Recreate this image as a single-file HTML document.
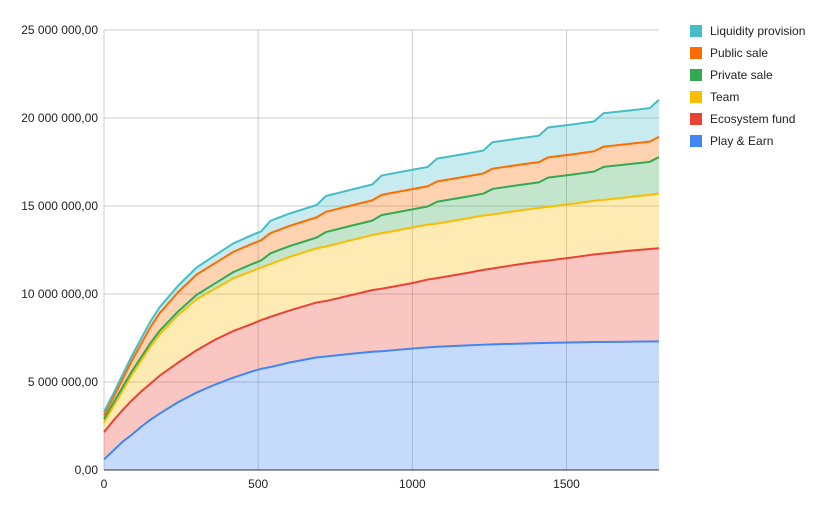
<!DOCTYPE html>
<html><head><meta charset="utf-8"><style>
body{margin:0;background:#fff;}
svg{font-family:"Liberation Sans",Arial,sans-serif;}
</style></head><body>
<svg id="chart" width="829" height="513"></svg>
<script>
const days=[0,30,60,90,120,150,180,240,300,360,420,480,510,540,600,690,720,800,870,900,1000,1050,1080,1180,1230,1260,1350,1410,1440,1530,1590,1620,1700,1770,1800];
const playEarn=[0.6,1.1,1.6,2.0,2.45,2.85,3.2,3.85,4.4,4.85,5.25,5.6,5.75,5.85,6.1,6.4,6.45,6.6,6.72,6.75,6.9,6.97,7.0,7.08,7.12,7.14,7.18,7.21,7.22,7.25,7.27,7.27,7.29,7.3,7.31];
const ecosystem=[1.55,1.7,1.8,1.95,2.0,2.05,2.15,2.25,2.4,2.55,2.65,2.7,2.77,2.85,2.95,3.12,3.15,3.33,3.5,3.55,3.72,3.85,3.9,4.12,4.25,4.31,4.52,4.63,4.68,4.85,4.98,5.03,5.16,5.26,5.29];
const team=[0.55,0.8,1.1,1.45,1.75,2.1,2.35,2.7,2.9,2.9,3.0,3.0,2.99,3.0,3.05,3.08,3.1,3.12,3.13,3.15,3.16,3.12,3.1,3.1,3.09,3.07,3.05,3.05,3.05,3.05,3.05,3.05,3.05,3.08,3.1];
const privateSale=[0.2,0.2,0.2,0.2,0.2,0.2,0.2,0.2,0.25,0.3,0.35,0.4,0.4,0.61,0.61,0.61,0.82,0.82,0.82,1.03,1.03,1.03,1.24,1.24,1.24,1.45,1.45,1.45,1.66,1.66,1.66,1.87,1.87,1.87,2.08];
const publicSale=[0.2,0.3,0.45,0.6,0.75,0.9,1.0,1.1,1.15,1.15,1.15,1.15,1.15,1.15,1.15,1.15,1.15,1.15,1.15,1.15,1.15,1.15,1.15,1.15,1.15,1.15,1.15,1.15,1.15,1.15,1.15,1.15,1.15,1.15,1.15];
const liquidity=[0.2,0.22,0.25,0.27,0.3,0.32,0.34,0.37,0.4,0.45,0.48,0.5,0.5,0.7,0.7,0.7,0.9,0.9,0.9,1.1,1.1,1.1,1.3,1.3,1.3,1.5,1.5,1.5,1.7,1.7,1.7,1.9,1.9,1.9,2.1];
const seriesNames=["Play & Earn","Ecosystem fund","Team","Private sale","Public sale","Liquidity provision"];
const xTicks=[0,500,1000,1500];
const yTicks=[0,5,10,15,20,25];
const yTickLabels=["0,00","5 000 000,00","10 000 000,00","15 000 000,00","20 000 000,00","25 000 000,00"];

const colors=["#4285f4","#ea4335","#fbbc04","#34a853","#ff6d01","#46bdc6"];
const NS="http://www.w3.org/2000/svg";
const svg=document.getElementById("chart");
const X0=104,X1=659,Y0=470,Y1=30;
const xs=d=>X0+d/1800*(X1-X0);
const ys=v=>Y0-v/25*(Y0-Y1);
function mk(tag,attrs){const e=document.createElementNS(NS,tag);for(const k in attrs)e.setAttribute(k,attrs[k]);svg.appendChild(e);return e;}

yTicks.forEach((t,i)=>{
  const l=mk("line",{x1:X0,x2:X1,y1:ys(t),y2:ys(t),stroke:"#ccc","stroke-width":1});
  
  
  const tx=mk("text",{x:X0-6,y:ys(t)+4,"text-anchor":"end","font-size":12,fill:"#222"});
  tx.textContent=yTickLabels[i];
  
  
});
xTicks.forEach(t=>{
  const l=mk("line",{x1:xs(t),x2:xs(t),y1:Y1,y2:Y0,stroke:"#ccc","stroke-width":1});
  
  
  const tx=mk("text",{x:xs(t),y:Y0+18,"text-anchor":"middle","font-size":12,fill:"#222"});
  tx.textContent=t;
  
  
});

const layers=[playEarn,ecosystem,team,privateSale,publicSale,liquidity];
let base=days.map(()=>0);
const tops=[];
layers.forEach((arr,li)=>{
  const top=base.map((b,i)=>b+arr[i]);
  let d="M"+days.map((dd,i)=>xs(dd)+","+ys(top[i])).join("L");
  for(let i=days.length-1;i>=0;i--)d+="L"+xs(days[i])+","+ys(base[i]);
  d+="Z";
  const a=mk("path",{d:d,fill:colors[li],"fill-opacity":0.3,stroke:"none"});
  
  
  tops.push(top);
  base=top;
});
tops.forEach((top,li)=>{
  const ln=mk("polyline",{points:days.map((dd,i)=>xs(dd)+","+ys(top[i])).join(" "),fill:"none",stroke:colors[li],"stroke-width":2,"stroke-linejoin":"round"});
  
  
});
const ax=mk("line",{x1:X0,x2:X1,y1:Y0,y2:Y0,stroke:"#333","stroke-width":1});


const order=[5,4,3,2,1,0];
order.forEach((si,k)=>{
  const y=30+k*22;
  const r=mk("rect",{x:690,y:y-5,width:12,height:12,fill:colors[si]});
  
  
  const t=mk("text",{x:710,y:y+5,"font-size":12,fill:"#222"});
  t.textContent=seriesNames[si];
  
  
});
</script>
</body></html>
